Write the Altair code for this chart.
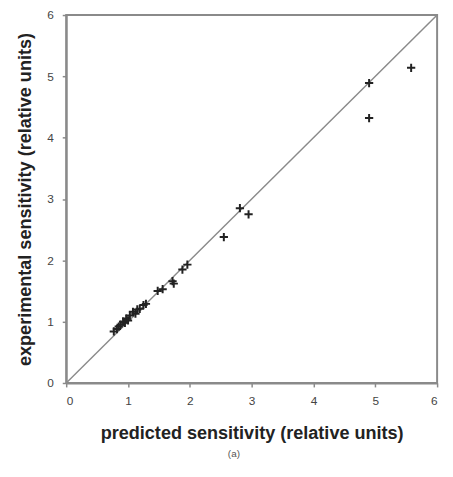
import altair as alt
import pandas as pd

predicted = [0.77, 0.82, 0.85, 0.88, 0.92, 0.95, 0.97, 1.00, 1.03, 1.08, 1.12, 1.15, 1.19, 1.25, 1.29,
             1.48, 1.56, 1.72, 1.74, 1.88, 1.96, 2.55, 2.81, 2.95, 4.90, 4.90, 5.58]
experimental = [0.84, 0.88, 0.92, 0.95, 1.00, 0.98, 1.05, 1.02, 1.10, 1.16, 1.13, 1.20, 1.21, 1.27, 1.29,
                1.50, 1.53, 1.66, 1.62, 1.85, 1.93, 2.38, 2.85, 2.75, 4.89, 4.32, 5.14]
line_x = [0, 6]
line_y = [0, 6]
tick_values = [0, 1, 2, 3, 4, 5, 6]

pts = pd.DataFrame({"x": predicted, "y": experimental})
diag = pd.DataFrame({"x": line_x, "y": line_y})

xscale = alt.Scale(domain=[0, 6], nice=False)
yscale = alt.Scale(domain=[0, 6], nice=False)

xaxis = alt.Axis(title="predicted sensitivity (relative units)", values=tick_values, format="d",
                 grid=False, tickSize=4, labelPadding=9, titlePadding=18)
yaxis = alt.Axis(title="experimental sensitivity (relative units)", values=tick_values, format="d",
                 grid=False, tickSize=4, labelPadding=9, titlePadding=13)

line = alt.Chart(diag).mark_line(color="#8a8a8a", strokeWidth=1.5, clip=True).encode(
    x=alt.X("x:Q", scale=xscale, axis=xaxis),
    y=alt.Y("y:Q", scale=yscale, axis=yaxis),
)

cross = "M-1,0L1,0M0,-1L0,1"
points = alt.Chart(pts).mark_point(shape=cross, size=70, color="#222222", strokeWidth=2,
                                   filled=False, opacity=1).encode(
    x="x:Q", y="y:Q"
)

chart = (line + points).properties(
    width=376, height=373,
    autosize=alt.AutoSizeParams(type="none"),
    padding={"left": 59, "top": 4, "right": 8, "bottom": 79},
    title=alt.TitleParams("(a)", orient="bottom", fontSize=10, fontWeight="normal",
                          font="Liberation Sans", color="#555555", dx=-18, offset=8),
).configure_view(stroke="#8a8a8a", strokeWidth=2).configure_axis(
    domainColor="#8a8a8a", domainWidth=2, tickColor="#8a8a8a", tickWidth=1.5,
    labelFont="Liberation Sans", labelFontSize=12, labelColor="#444444",
    titleFont="Liberation Sans", titleFontSize=18.3, titleFontWeight="bold", titleColor="#222222",
)

chart.save("out.html", embed_options={"renderer": "svg", "actions": False})
